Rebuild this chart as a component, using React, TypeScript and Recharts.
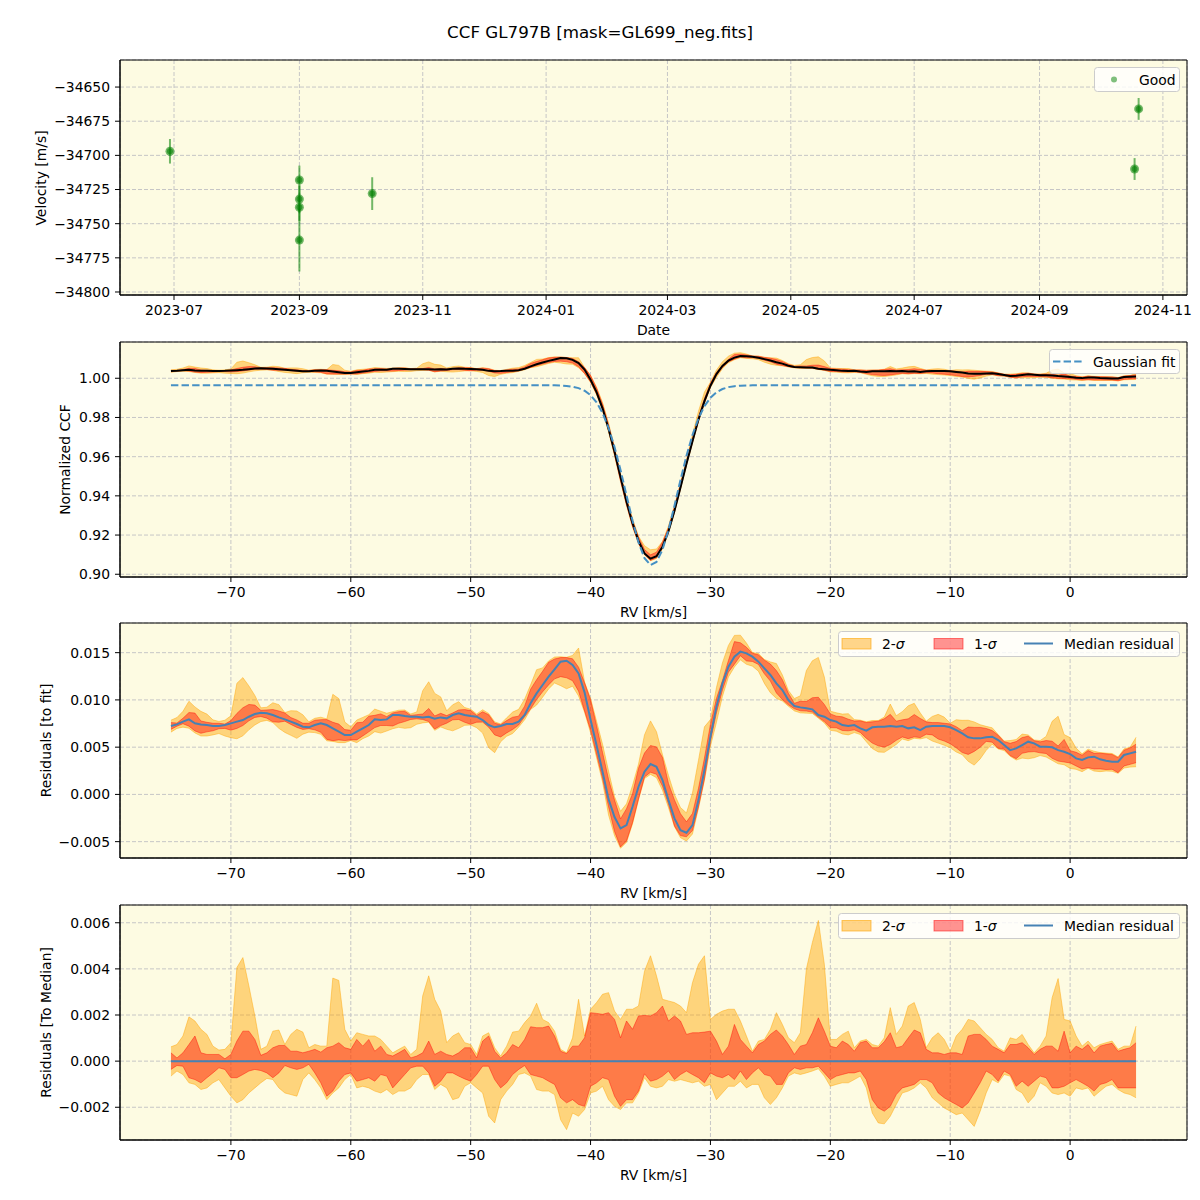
import {
  ComposedChart, ScatterChart, Scatter, ErrorBar, Area, Line,
  XAxis, YAxis, CartesianGrid, ReferenceArea, Legend,
} from 'recharts'

// ---- velocity time series (top panel) ----
const obsDates = ['2023-06-29', '2023-09-01', '2023-09-01', '2023-09-01', '2023-09-01', '2023-10-07', '2024-10-18', '2024-10-20']
const obsVelocity = [-34697, -34718, -34732, -34738, -34762, -34728, -34710, -34666]
const obsError = [9, 10.5, 10, 10, 23, 12, 8, 8]
const dateTicks = ['2023-07-01', '2023-09-01', '2023-11-01', '2024-01-01', '2024-03-01', '2024-05-01', '2024-07-01', '2024-09-01', '2024-11-01']
const dateRange = ['2023-06-04T07:00:00Z', '2024-11-12T22:00:00Z']
const velocityTicks = [-34800, -34775, -34750, -34725, -34700, -34675, -34650]

// ---- CCF panels, sampled every 0.5 km/s ----
const rv = [
  -75, -74.5, -74, -73.5, -73, -72.5, -72, -71.5, -71, -70.5,
  -70, -69.5, -69, -68.5, -68, -67.5, -67, -66.5, -66, -65.5,
  -65, -64.5, -64, -63.5, -63, -62.5, -62, -61.5, -61, -60.5,
  -60, -59.5, -59, -58.5, -58, -57.5, -57, -56.5, -56, -55.5,
  -55, -54.5, -54, -53.5, -53, -52.5, -52, -51.5, -51, -50.5,
  -50, -49.5, -49, -48.5, -48, -47.5, -47, -46.5, -46, -45.5,
  -45, -44.5, -44, -43.5, -43, -42.5, -42, -41.5, -41, -40.5,
  -40, -39.5, -39, -38.5, -38, -37.5, -37, -36.5, -36, -35.5,
  -35, -34.5, -34, -33.5, -33, -32.5, -32, -31.5, -31, -30.5,
  -30, -29.5, -29, -28.5, -28, -27.5, -27, -26.5, -26, -25.5,
  -25, -24.5, -24, -23.5, -23, -22.5, -22, -21.5, -21, -20.5,
  -20, -19.5, -19, -18.5, -18, -17.5, -17, -16.5, -16, -15.5,
  -15, -14.5, -14, -13.5, -13, -12.5, -12, -11.5, -11, -10.5,
  -10, -9.5, -9, -8.5, -8, -7.5, -7, -6.5, -6, -5.5,
  -5, -4.5, -4, -3.5, -3, -2.5, -2, -1.5, -1, -0.5,
  0, 0.5, 1, 1.5, 2, 2.5, 3, 3.5, 4, 4.5,
  5, 5.5,
]

const gaussFit = [
  0.99643, 0.99643, 0.99643, 0.99643, 0.99643, 0.99643, 0.99643, 0.99643, 0.99643, 0.99643,
  0.99643, 0.99643, 0.99643, 0.99643, 0.99643, 0.99643, 0.99643, 0.99643, 0.99643, 0.99643,
  0.99643, 0.99643, 0.99643, 0.99643, 0.99643, 0.99643, 0.99643, 0.99643, 0.99643, 0.99643,
  0.99643, 0.99643, 0.99643, 0.99643, 0.99643, 0.99643, 0.99643, 0.99643, 0.99643, 0.99643,
  0.99643, 0.99643, 0.99643, 0.99643, 0.99643, 0.99643, 0.99643, 0.99643, 0.99643, 0.99643,
  0.99643, 0.99643, 0.99643, 0.99643, 0.99643, 0.99643, 0.99643, 0.99643, 0.99643, 0.99643,
  0.99643, 0.99643, 0.99642, 0.99641, 0.99637, 0.99628, 0.99609, 0.99571, 0.99497, 0.99363,
  0.99135, 0.98771, 0.98228, 0.97472, 0.96491, 0.95315, 0.94022, 0.92738, 0.91619, 0.90824,
  0.90473, 0.90625, 0.91254, 0.92261, 0.935, 0.94806, 0.96041, 0.97106, 0.97952, 0.98578,
  0.99008, 0.99285, 0.99452, 0.99547, 0.99597, 0.99622, 0.99634, 0.99639, 0.99642, 0.99643,
  0.99643, 0.99643, 0.99643, 0.99643, 0.99643, 0.99643, 0.99643, 0.99643, 0.99643, 0.99643,
  0.99643, 0.99643, 0.99643, 0.99643, 0.99643, 0.99643, 0.99643, 0.99643, 0.99643, 0.99643,
  0.99643, 0.99643, 0.99643, 0.99643, 0.99643, 0.99643, 0.99643, 0.99643, 0.99643, 0.99643,
  0.99643, 0.99643, 0.99643, 0.99643, 0.99643, 0.99643, 0.99643, 0.99643, 0.99643, 0.99643,
  0.99643, 0.99643, 0.99643, 0.99643, 0.99643, 0.99643, 0.99643, 0.99643, 0.99643, 0.99643,
  0.99643, 0.99643, 0.99643, 0.99643, 0.99643, 0.99643, 0.99643, 0.99643, 0.99643, 0.99643,
  0.99643, 0.99643,
]

// median residual to fit, x1e-3
const medResidual = [
  7.24, 7.41, 7.7, 7.94, 7.52, 7.41, 7.34, 7.24, 7.24, 7.34,
  7.52, 7.7, 7.87, 8.22, 8.51, 8.65, 8.58, 8.4, 8.15, 7.94,
  7.7, 7.45, 7.17, 7.1, 7.34, 7.52, 7.34, 6.99, 6.64, 6.28,
  6.28, 6.64, 6.99, 7.34, 7.94, 7.87, 7.94, 8.4, 8.4, 8.29,
  8.22, 8.22, 8.15, 8.22, 8.01, 8.15, 8.05, 8.4, 8.58, 8.4,
  8.29, 8.22, 7.87, 7.34, 7.1, 7.24, 7.45, 7.45, 7.7, 8.4,
  9.64, 10.69, 11.58, 12.46, 13.24, 14.05, 14.15, 13.7, 12.81, 10.8,
  7.9, 5.2, 2.4, -0.5, -2.4, -3.6, -3.25, -1.31, 0.81, 2.4,
  3.21, 2.93, 1.52, -0.6, -2.54, -3.78, -4.06, -3.25, -0.6, 2.58,
  6.11, 9.28, 11.75, 13.52, 14.58, 15.11, 14.93, 14.58, 14.05, 13.34,
  12.64, 11.75, 11.05, 9.99, 9.35, 9.21, 9.11, 9.0, 8.4, 8.22,
  7.87, 7.7, 7.34, 7.24, 7.34, 6.99, 6.74, 7.1, 7.17, 7.17,
  7.24, 7.17, 7.24, 6.99, 7.1, 6.81, 7.17, 7.24, 7.24, 7.24,
  7.1, 6.81, 6.46, 6.04, 5.93, 5.93, 6.04, 6.11, 5.75, 5.22,
  4.69, 4.87, 5.22, 5.58, 5.4, 5.05, 5.05, 4.98, 4.69, 4.52,
  4.27, 3.81, 3.64, 3.92, 3.99, 3.71, 3.57, 3.46, 3.46, 4.17,
  4.34, 4.52,
]

// residual percentiles relative to the median, x1e-3
const hi2 = [
  0.62, 0.72, 1.09, 1.92, 1.74, 1.38, 1.16, 0.65, 0.48, 0.51,
  0.8, 4.06, 4.49, 3.26, 1.96, 0.51, 0.65, 1.3, 1.35, 0.72,
  1.16, 1.38, 1.26, 0.58, 0.72, 0.65, 0.65, 3.6, 3.5, 1.38,
  0.87, 1.23, 1.16, 1.09, 1.09, 0.94, 0.65, 0.36, 0.51, 0.65,
  0.29, 0.51, 2.83, 3.7, 2.68, 2.17, 0.8, 1.09, 1.23, 0.8,
  0.72, 0.29, 1.09, 1.23, 0.58, 0.22, 0.65, 1.26, 1.3, 1.67,
  1.96, 2.51, 1.81, 1.67, 1.3, 0.51, 0.36, 1.01, 2.68, 1.09,
  2.25, 2.54, 2.9, 2.97, 2.17, 1.81, 2.25, 2.25, 2.39, 3.9,
  4.57, 3.7, 2.68, 2.61, 2.54, 2.39, 2.1, 3.4, 4.2, 4.57,
  1.81, 2.03, 2.17, 2.25, 2.25, 1.74, 1.09, 0.43, 0.87, 0.94,
  1.38, 2.1, 1.59, 1.01, 0.8, 1.23, 3.99, 5.14, 6.1, 4.2,
  0.94, 0.94, 1.16, 1.3, 0.58, 0.87, 0.94, 0.72, 0.65, 1.01,
  2.32, 1.16, 1.52, 2.39, 2.54, 1.81, 0.58, 1.01, 1.23, 0.94,
  0.43, 1.09, 1.38, 1.81, 1.74, 1.45, 1.16, 0.94, 0.58, 0.43,
  1.01, 0.94, 1.16, 0.72, 0.36, 0.65, 1.09, 2.75, 3.58, 1.81,
  1.74, 1.09, 0.65, 0.87, 0.58, 0.72, 0.8, 0.87, 0.51, 0.65,
  0.65, 1.52,
]
const hi1 = [
  0.36, 0.14, 0.36, 0.72, 1.09, 0.36, 0.29, 0.29, 0.29, 0.1,
  0.29, 0.87, 1.3, 1.3, 0.94, 0.25, 0.36, 0.58, 0.68, 0.68,
  0.43, 0.43, 0.36, 0.43, 0.51, 0.39, 0.58, 0.65, 0.8, 0.58,
  0.51, 0.94, 0.65, 0.94, 0.43, 0.65, 0.29, 0.22, 0.36, 0.51,
  0.14, 0.22, 0.36, 0.87, 0.29, 0.43, 0.29, 0.22, 0.36, 0.58,
  0.58, 0.14, 0.87, 1.09, 0.43, 0.14, 0.36, 0.72, 0.58, 0.94,
  1.49, 1.45, 1.45, 1.52, 1.09, 0.43, 0.33, 0.65, 0.65, 1.01,
  2.1, 2.07, 2.03, 2.1, 1.81, 1.01, 1.74, 1.38, 1.96, 1.98,
  1.96, 2.1, 2.39, 1.74, 1.96, 1.74, 1.16, 1.23, 1.23, 1.26,
  1.3, 0.87, 0.29, 0.65, 1.59, 0.94, 0.65, 0.36, 0.72, 0.87,
  1.16, 1.35, 1.09, 0.72, 0.29, 0.65, 0.72, 1.23, 1.88, 1.3,
  0.65, 0.58, 0.87, 0.72, 0.43, 0.8, 0.87, 0.58, 0.58, 0.84,
  1.23, 0.58, 0.65, 1.01, 1.35, 1.23, 0.51, 0.36, 0.36, 0.29,
  0.36, 0.36, 0.29, 1.09, 1.16, 1.16, 0.94, 0.65, 0.51, 0.36,
  0.72, 0.72, 0.8, 0.58, 0.29, 0.51, 0.65, 0.65, 0.43, 1.3,
  0.36, 0.65, 0.51, 0.72, 0.36, 0.65, 0.72, 0.77, 0.43, 0.51,
  0.58, 0.8,
]
const lo1 = [
  -0.36, -0.19, -0.22, -0.72, -0.8, -0.94, -0.72, -0.51, -0.29, -0.36,
  -0.72, -0.72, -0.58, -0.43, -0.36, -0.41, -0.51, -0.72, -0.51, -0.19,
  -0.29, -0.36, -0.29, -0.14, -0.51, -0.94, -1.52, -1.3, -0.87, -0.58,
  -0.51, -0.87, -0.8, -0.72, -0.87, -0.58, -0.65, -1.16, -0.87, -0.58,
  -0.29, -0.22, -0.22, -0.51, -1.09, -0.87, -0.51, -0.51, -0.65, -0.77,
  -0.87, -0.58, -0.22, -0.22, -0.8, -1.16, -0.94, -0.58, -0.36, -0.19,
  -0.58, -0.65, -0.72, -0.87, -1.01, -1.59, -1.81, -1.67, -1.88, -1.96,
  -1.09, -0.94, -0.72, -0.8, -1.52, -1.96, -1.67, -1.67, -1.3, -0.55,
  -0.87, -0.8, -0.65, -0.43, -0.8, -0.58, -0.43, -0.58, -0.72, -0.94,
  -0.51, -0.65, -0.72, -0.58, -0.8, -0.43, -0.8, -0.51, -0.29, -0.58,
  -0.65, -1.01, -1.01, -0.51, -0.29, -0.36, -0.29, -0.29, -0.22, -0.51,
  -0.8, -0.65, -0.58, -0.51, -0.51, -0.43, -0.8, -1.67, -2.03, -2.17,
  -1.96, -1.45, -1.16, -1.09, -1.01, -0.8, -0.8, -0.94, -1.38, -1.59,
  -1.74, -1.88, -2.03, -1.81, -1.38, -0.94, -0.43, -0.58, -0.87, -0.43,
  -0.58, -1.09, -0.87, -1.09, -0.87, -0.65, -0.72, -1.16, -1.16, -1.09,
  -0.94, -0.8, -0.94, -1.09, -1.3, -1.01, -0.94, -0.8, -1.16, -1.16,
  -1.16, -1.16,
]
const lo2 = [
  -0.65, -0.43, -0.58, -0.94, -1.01, -1.23, -1.16, -0.94, -0.8, -1.16,
  -1.52, -1.81, -1.67, -1.38, -1.16, -0.94, -0.75, -0.8, -1.16, -1.38,
  -1.45, -1.52, -0.8, -0.51, -0.8, -1.16, -1.67, -1.38, -1.16, -0.8,
  -0.58, -1.16, -1.09, -1.16, -1.3, -1.38, -1.23, -1.45, -1.3, -1.3,
  -1.16, -0.8, -0.58, -0.58, -1.23, -1.01, -1.16, -1.67, -1.59, -1.09,
  -0.94, -1.16, -1.38, -2.39, -2.68, -1.67, -1.3, -1.01, -0.58, -0.51,
  -0.65, -1.23, -1.3, -1.3, -1.45, -2.54, -2.97, -2.25, -2.39, -2.1,
  -1.38, -1.3, -1.09, -1.67, -1.96, -2.1, -1.81, -1.81, -1.38, -0.72,
  -1.09, -1.16, -1.09, -0.8, -0.87, -0.8, -0.87, -0.94, -0.87, -1.09,
  -1.01, -1.67, -1.38, -1.09, -1.09, -0.87, -1.16, -1.01, -1.01, -1.59,
  -1.88, -1.59, -1.16, -0.65, -0.51, -0.58, -0.51, -0.43, -0.33, -0.65,
  -1.09, -1.01, -0.94, -0.94, -0.8, -0.65, -1.16, -2.25, -2.68, -2.72,
  -2.39, -1.88, -1.38, -1.3, -1.16, -0.94, -1.16, -1.59, -1.81, -2.03,
  -2.17, -2.32, -2.25, -2.54, -2.83, -2.17, -1.38, -0.8, -0.94, -0.58,
  -0.65, -1.23, -1.38, -1.81, -1.52, -0.94, -1.09, -1.38, -1.45, -1.38,
  -1.52, -1.16, -1.23, -1.16, -1.52, -1.3, -1.09, -1.01, -1.23, -1.38,
  -1.45, -1.59,
]

const rvTicks = [-70, -60, -50, -40, -30, -20, -10, 0]
const ccfTicks = [0.9, 0.92, 0.94, 0.96, 0.98, 1.0]
const fitResTicks = [-0.005, 0, 0.005, 0.01, 0.015]
const medResTicks = [-0.002, 0, 0.002, 0.004, 0.006]

// ---- layout / style ----
const FONT = 'DejaVu Sans'
const BG = '#fdfbe2'
const GRID = '#c6c6c6'
const ORANGE = '#ffa500'
const RED = '#ff0000'
const BLUE = '#4682b4'
const FIT_BLUE = '#4590c4'
const GREEN = '#008000'

const CHART_W = 1200
const PLOT_LEFT = 120
const PLOT_RIGHT = 1187
const PLOT_H = 235
const PAD_TOP = 10
const XAXIS_H = 40
const CHART_H = PAD_TOP + PLOT_H + XAXIS_H
const RV_DOMAIN: [number, number] = [-79.25, 9.75]

const K = 1e-3
const minus = (s: string) => s.replace('-', '\u2212')

const obsRows = obsDates.map((d, i) => ({ t: Date.parse(d), v: obsVelocity[i], err: obsError[i] }))
const dateTickMs = dateTicks.map((d) => Date.parse(d))
const dateDomain = dateRange.map((d) => Date.parse(d))

const ccfRows = rv.map((x, i) => {
  const c = gaussFit[i] + medResidual[i] * K
  return {
    rv: x,
    fit: gaussFit[i],
    ccf: c,
    s2: [c + lo2[i] * K, c + hi2[i] * K],
    s1: [c + lo1[i] * K, c + hi1[i] * K],
  }
})
const fitResRows = rv.map((x, i) => {
  const m = medResidual[i] * K
  return { rv: x, med: m, s2: [m + lo2[i] * K, m + hi2[i] * K], s1: [m + lo1[i] * K, m + hi1[i] * K] }
})
const medResRows = rv.map((x, i) => ({
  rv: x, med: 0, s2: [lo2[i] * K, hi2[i] * K], s1: [lo1[i] * K, hi1[i] * K],
}))

const tickStyle = { fontSize: 13.9, fill: '#000', fontFamily: FONT }
const chartMargin = { top: PAD_TOP, right: CHART_W - PLOT_RIGHT, bottom: 0, left: 0 }

const rvAxis = {
  dataKey: 'rv', type: 'number' as const, domain: RV_DOMAIN, ticks: rvTicks, allowDataOverflow: true,
  interval: 0 as const, height: XAXIS_H, tick: tickStyle, tickSize: 5, tickMargin: 5,
  tickLine: { stroke: '#000' }, axisLine: { stroke: '#000' },
  tickFormatter: (v: number) => minus(String(v)),
}
const yAxisBase = {
  type: 'number' as const, allowDataOverflow: true, interval: 0 as const, width: PLOT_LEFT,
  tick: tickStyle, tickSize: 5, tickMargin: 5, tickLine: { stroke: '#000' }, axisLine: { stroke: '#000' },
}

function LegendFrame({ width, height, children }: { width: number; height: number; children: any }) {
  return (
    <svg width={width} height={height} style={{ display: 'block', overflow: 'visible' }}>
      <rect x={0.5} y={0.5} width={width - 1} height={height - 1} rx={3} fill="#fff" fillOpacity={0.8} stroke="#cccccc" />
      {children}
    </svg>
  )
}

const legendText = { fontSize: 13.9, fontFamily: FONT, fill: '#000', dominantBaseline: 'central' as const }

function GoodLegend() {
  return (
    <LegendFrame width={86} height={25}>
      <circle cx={20} cy={12.5} r={3} fill={GREEN} fillOpacity={0.5} />
      <text x={45} y={12.5} {...legendText}>Good</text>
    </LegendFrame>
  )
}

function FitLegend() {
  return (
    <LegendFrame width={131} height={25}>
      <line x1={4} x2={33} y1={12.5} y2={12.5} stroke={FIT_BLUE} strokeWidth={2} strokeDasharray="7.4 3.2" />
      <text x={44} y={12.5} {...legendText}>Gaussian fit</text>
    </LegendFrame>
  )
}

function BandLegend() {
  return (
    <LegendFrame width={342} height={26}>
      <rect x={4} y={7.5} width={29} height={10.5} fill={ORANGE} fillOpacity={0.45} stroke={ORANGE} strokeOpacity={0.6} />
      <text x={44} y={13} {...legendText}>2-<tspan fontStyle="italic">σ</tspan></text>
      <rect x={96} y={7.5} width={29} height={10.5} fill={RED} fillOpacity={0.42} stroke={RED} strokeOpacity={0.5} />
      <text x={136} y={13} {...legendText}>1-<tspan fontStyle="italic">σ</tspan></text>
      <line x1={186} x2={215} y1={12.5} y2={12.5} stroke={BLUE} strokeWidth={2} />
      <text x={226} y={13} {...legendText}>Median residual</text>
    </LegendFrame>
  )
}

function GoodMarker(props: any) {
  const { cx, cy } = props
  return (
    <g>
      <circle cx={cx} cy={cy} r={4.5} fill={GREEN} fillOpacity={0.55} />
      <circle cx={cx} cy={cy} r={3} fill={GREEN} fillOpacity={0.55} />
    </g>
  )
}

function Bands() {
  return null
}

function place(top: number) {
  return { position: 'absolute' as const, left: 0, top: top - PAD_TOP }
}

export default function App() {
  const velDomain: [number, number] = [-34802.2, -34630.2]
  const ccfDomain: [number, number] = [0.8986, 1.0185]
  const fitResDomain: [number, number] = [-0.00673, 0.01814]
  const medResDomain: [number, number] = [-0.00342, 0.00677]

  return (
    <div style={{ position: 'absolute', left: 0, top: 0, width: 1200, height: 1200, background: '#fff' }}>
      {/* velocity vs date */}
      <div style={place(60)}>
        <ScatterChart width={CHART_W} height={CHART_H} margin={chartMargin}>
          <CartesianGrid fill={BG} stroke={GRID} strokeDasharray="4 2" />
          <XAxis
            dataKey="t" type="number" domain={dateDomain} ticks={dateTickMs} allowDataOverflow interval={0}
            height={XAXIS_H} tick={tickStyle} tickSize={5} tickMargin={5}
            tickLine={{ stroke: '#000' }} axisLine={{ stroke: '#000' }}
            tickFormatter={(v: number) => new Date(v).toISOString().slice(0, 7)}
          />
          <YAxis dataKey="v" {...yAxisBase} domain={velDomain} ticks={velocityTicks}
            tickFormatter={(v: number) => minus(String(v))} />
          <Scatter data={obsRows} fill={GREEN} shape={GoodMarker} isAnimationActive={false}>
            <ErrorBar dataKey="err" direction="y" width={0} stroke={GREEN} strokeOpacity={0.55} strokeWidth={2} />
          </Scatter>
          <ReferenceArea x1={dateDomain[0]} x2={dateDomain[1]} y1={velDomain[0]} y2={velDomain[1]}
            fill="none" fillOpacity={0} stroke="#000" strokeWidth={1} ifOverflow="visible" />
          <Legend layout="vertical" align="center" verticalAlign="middle"
            wrapperStyle={{ left: 1094, top: PAD_TOP + 7, width: 86, height: 25 }} content={() => <GoodLegend />} />
        </ScatterChart>
      </div>

      {/* normalized CCF */}
      <div style={place(342)}>
        <ComposedChart width={CHART_W} height={CHART_H} data={ccfRows} margin={chartMargin}>
          <CartesianGrid fill={BG} stroke={GRID} strokeDasharray="4 2" />
          <XAxis {...rvAxis} />
          <YAxis {...yAxisBase} domain={ccfDomain} ticks={ccfTicks} tickFormatter={(v: number) => v.toFixed(2)} />
          <Area dataKey="s2" type="linear" fill={ORANGE} fillOpacity={0.45} stroke={ORANGE} strokeOpacity={0.45}
            strokeWidth={1} dot={false} activeDot={false} isAnimationActive={false} />
          <Area dataKey="s1" type="linear" fill={RED} fillOpacity={0.42} stroke={RED} strokeOpacity={0.42}
            strokeWidth={1} dot={false} activeDot={false} isAnimationActive={false} />
          <Line dataKey="ccf" type="linear" stroke="#000" strokeWidth={2} dot={false} activeDot={false} isAnimationActive={false} />
          <Line dataKey="fit" type="linear" stroke={FIT_BLUE} strokeWidth={2} strokeDasharray="7.4 3.2"
            dot={false} activeDot={false} isAnimationActive={false} />
          <ReferenceArea x1={RV_DOMAIN[0]} x2={RV_DOMAIN[1]} y1={ccfDomain[0]} y2={ccfDomain[1]}
            fill="none" fillOpacity={0} stroke="#000" strokeWidth={1} ifOverflow="visible" />
          <Legend layout="vertical" align="center" verticalAlign="middle"
            wrapperStyle={{ left: 1049, top: PAD_TOP + 7, width: 131, height: 25 }} content={() => <FitLegend />} />
        </ComposedChart>
      </div>

      {/* residuals to fit */}
      <div style={place(623)}>
        <ComposedChart width={CHART_W} height={CHART_H} data={fitResRows} margin={chartMargin}>
          <CartesianGrid fill={BG} stroke={GRID} strokeDasharray="4 2" />
          <XAxis {...rvAxis} />
          <YAxis {...yAxisBase} domain={fitResDomain} ticks={fitResTicks}
            tickFormatter={(v: number) => minus(v.toFixed(3))} />
          <Area dataKey="s2" type="linear" fill={ORANGE} fillOpacity={0.45} stroke={ORANGE} strokeOpacity={0.45}
            strokeWidth={1} dot={false} activeDot={false} isAnimationActive={false} />
          <Area dataKey="s1" type="linear" fill={RED} fillOpacity={0.42} stroke={RED} strokeOpacity={0.42}
            strokeWidth={1} dot={false} activeDot={false} isAnimationActive={false} />
          <Line dataKey="med" type="linear" stroke={BLUE} strokeWidth={2} dot={false} activeDot={false} isAnimationActive={false} />
          <ReferenceArea x1={RV_DOMAIN[0]} x2={RV_DOMAIN[1]} y1={fitResDomain[0]} y2={fitResDomain[1]}
            fill="none" fillOpacity={0} stroke="#000" strokeWidth={1} ifOverflow="visible" />
          <Legend layout="vertical" align="center" verticalAlign="middle"
            wrapperStyle={{ left: 838, top: PAD_TOP + 7.5, width: 342, height: 26 }} content={() => <BandLegend />} />
        </ComposedChart>
      </div>

      {/* residuals to median */}
      <div style={place(905)}>
        <ComposedChart width={CHART_W} height={CHART_H} data={medResRows} margin={chartMargin}>
          <CartesianGrid fill={BG} stroke={GRID} strokeDasharray="4 2" />
          <XAxis {...rvAxis} />
          <YAxis {...yAxisBase} domain={medResDomain} ticks={medResTicks}
            tickFormatter={(v: number) => minus(v.toFixed(3))} />
          <Area dataKey="s2" type="linear" fill={ORANGE} fillOpacity={0.45} stroke={ORANGE} strokeOpacity={0.45}
            strokeWidth={1} dot={false} activeDot={false} isAnimationActive={false} />
          <Area dataKey="s1" type="linear" fill={RED} fillOpacity={0.42} stroke={RED} strokeOpacity={0.42}
            strokeWidth={1} dot={false} activeDot={false} isAnimationActive={false} />
          <Line dataKey="med" type="linear" stroke={BLUE} strokeWidth={2} dot={false} activeDot={false} isAnimationActive={false} />
          <ReferenceArea x1={RV_DOMAIN[0]} x2={RV_DOMAIN[1]} y1={medResDomain[0]} y2={medResDomain[1]}
            fill="none" fillOpacity={0} stroke="#000" strokeWidth={1} ifOverflow="visible" />
          <Legend layout="vertical" align="center" verticalAlign="middle"
            wrapperStyle={{ left: 838, top: PAD_TOP + 7.5, width: 342, height: 24 }} content={() => <BandLegend />} />
        </ComposedChart>
      </div>

      {/* figure title and axis titles */}
      <svg width={1200} height={1200} style={{ position: 'absolute', left: 0, top: 0, pointerEvents: 'none' }}
        fontFamily={FONT} fill="#000">
        <text x={600} y={32} fontSize={16.7} textAnchor="middle" dominantBaseline="central">CCF GL797B [mask=GL699_neg.fits]</text>
        <text x={653.5} y={330} fontSize={13.9} textAnchor="middle" dominantBaseline="central">Date</text>
        <text x={653.5} y={612} fontSize={13.9} textAnchor="middle" dominantBaseline="central">RV [km/s]</text>
        <text x={653.5} y={893} fontSize={13.9} textAnchor="middle" dominantBaseline="central">RV [km/s]</text>
        <text x={653.5} y={1175} fontSize={13.9} textAnchor="middle" dominantBaseline="central">RV [km/s]</text>
        <text x={41} y={178} fontSize={13.9} textAnchor="middle" dominantBaseline="central" transform="rotate(-90 41 178)">Velocity [m/s]</text>
        <text x={65} y={459.5} fontSize={13.9} textAnchor="middle" dominantBaseline="central" transform="rotate(-90 65 459.5)">Normalized CCF</text>
        <text x={46} y={740.5} fontSize={13.9} textAnchor="middle" dominantBaseline="central" transform="rotate(-90 46 740.5)">Residuals [to fit]</text>
        <text x={46} y={1022.5} fontSize={13.9} textAnchor="middle" dominantBaseline="central" transform="rotate(-90 46 1022.5)">Residuals [To Median]</text>
      </svg>
    </div>
  )
}
